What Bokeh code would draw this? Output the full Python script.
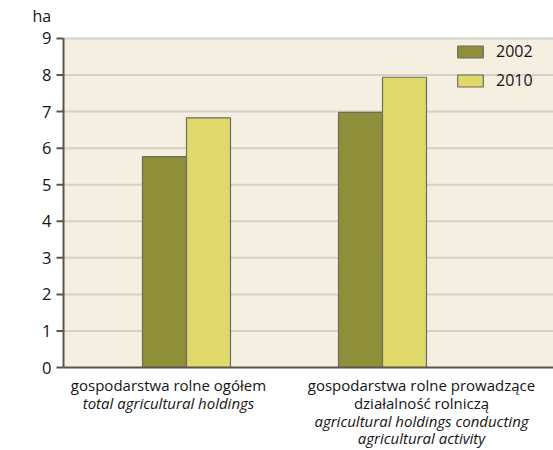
from bokeh.plotting import figure
from bokeh.models import ColumnDataSource, Range1d, Legend, LegendItem
from bokeh.core.properties import value
from bokeh.transform import dodge
from bokeh.embed import file_html
from bokeh.resources import INLINE

# ---- data ----
categories = ["gospodarstwa rolne ogółem", "gospodarstwa rolne prowadzące działalność rolniczą"]
label_pl = [["gospodarstwa rolne ogółem"], ["gospodarstwa rolne prowadzące", "działalność rolniczą"]]
label_en = [["total agricultural holdings"], ["agricultural holdings conducting", "agricultural activity"]]
years = ["2002", "2010"]
values_2002 = [5.77, 6.98]
values_2010 = [6.83, 7.94]
y_ticks = [0, 1, 2, 3, 4, 5, 6, 7, 8, 9]
y_max = 9
unit = "ha"

# ---- style ----
FONT = "Open Sans"
TXT = "#141414"
C2002 = "#8F8F3A"
C2010 = "#DFD96B"
OUT = "#6E6B63"
AXIS = "#5A5550"
GRID = "#D5D0CB"
BG = "#F4EFE1"

W, H = 553, 450
PX_X = 196.0            # pixels per category unit
PX_Y = 36.556           # pixels per y unit
X_CAT0_PX = 186.0       # pixel position of first category
Y0_PX = 367.0           # pixel position of y = 0
PLOT_LEFT_PX = 63.0

def xd(px):
    return 1 + (px - X_CAT0_PX) / PX_X

x_start, x_end = xd(0), xd(W)
y_start, y_end = -(H - Y0_PX) / PX_Y, Y0_PX / PX_Y
x_left = xd(PLOT_LEFT_PX)
tick_len = 7 / PX_X

xpos = [1, 2]
src = ColumnDataSource(dict(x=xpos, v2002=values_2002, v2010=values_2010))

p = figure(width=W, height=H, output_backend="svg", toolbar_location=None,
           x_range=Range1d(x_start, x_end), y_range=Range1d(y_start, y_end),
           x_axis_type=None, y_axis_type=None,
           min_border=0, min_border_left=0, min_border_right=0,
           min_border_top=0, min_border_bottom=0)
p.background_fill_color = "white"
p.border_fill_color = "white"
p.outline_line_color = None
p.grid.visible = False

# plot area background
p.quad(left=[x_left], right=[x_end], bottom=[0], top=[y_max], fill_color=BG, line_color=None)

# horizontal grid lines
grid_ticks = [t for t in y_ticks if t > 0]
p.segment(x0=[x_left] * len(grid_ticks), x1=[x_end] * len(grid_ticks),
          y0=grid_ticks, y1=grid_ticks, line_color=GRID, line_width=2)

# bars
bw = 44 / PX_X
r1 = p.vbar(x=dodge("x", -bw / 2, range=p.x_range), top="v2002", width=bw, source=src,
            fill_color=C2002, line_color=OUT, line_width=1.2)
r2 = p.vbar(x=dodge("x", bw / 2, range=p.x_range), top="v2010", width=bw, source=src,
            fill_color=C2010, line_color=OUT, line_width=1.2)

# axes
p.segment(x0=[x_left], x1=[x_left], y0=[0], y1=[y_max], line_color=AXIS, line_width=2)
p.segment(x0=[x_left], x1=[x_end], y0=[0], y1=[0], line_color=AXIS, line_width=2)
p.segment(x0=[x_left - tick_len] * len(y_ticks), x1=[x_left] * len(y_ticks),
          y0=y_ticks, y1=y_ticks, line_color=AXIS, line_width=2)
p.text(x=[x_left - 12 / PX_X] * len(y_ticks), y=y_ticks, text=[str(t) for t in y_ticks],
       text_align="right", text_baseline="middle", text_font=value(FONT),
       text_font_size="16.5px", text_color=TXT)

# unit label
p.text(x=[x_left - 31 / PX_X], y=[y_max], y_offset=-22, text=[unit], text_align="left",
       text_baseline="middle", text_font=value(FONT), text_font_size="16px", text_color=TXT)

# category labels
label_shift = [-18 / PX_X, 39 / PX_X]
for i, xc in enumerate(xpos):
    lines = [(t, "normal") for t in label_pl[i]] + [(t, "italic") for t in label_en[i]]
    for j, (t, style) in enumerate(lines):
        p.text(x=[xc + label_shift[i]], y=[0], y_offset=17.5 + 17.8 * j, text=[t],
               text_align="center", text_baseline="middle", text_font=value(FONT),
               text_font_size="15px", text_font_style=style, text_color=TXT)

legend = Legend(items=[LegendItem(label=years[0], renderers=[r1]),
                       LegendItem(label=years[1], renderers=[r2])],
                location=(454, 359), background_fill_alpha=0, border_line_color=None,
                padding=0, margin=0, spacing=7, glyph_width=32, glyph_height=15,
                label_height=15, label_standoff=10, label_text_font=FONT,
                label_text_font_size="16px", label_text_color=TXT)
p.add_layout(legend)

open("out.html", "w").write(file_html(p, INLINE))
